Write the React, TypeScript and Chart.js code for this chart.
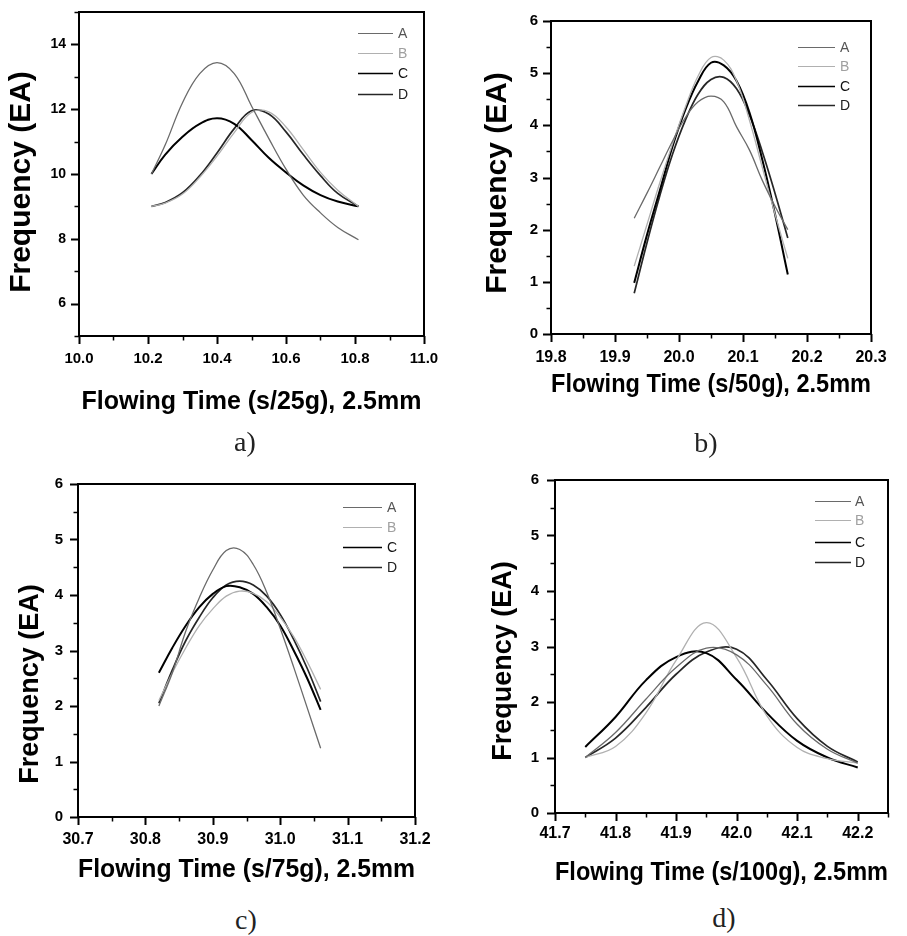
import React, { useEffect, useRef } from 'react';
import { Chart, registerables } from 'chart.js';

Chart.register(...registerables);

const FONT = '"Liberation Sans", Arial, Helvetica, sans-serif';

// ---------- Panel a) ----------
const A_X = [10.21, 10.25, 10.3, 10.35, 10.4, 10.45, 10.5, 10.55, 10.6, 10.65, 10.7, 10.75, 10.81];
const A_SERIES_A = [10.0, 10.9, 12.2, 13.1, 13.44, 13.1, 12.1, 11.1, 10.15, 9.35, 8.8, 8.35, 7.97];
const A_SERIES_B = [9.0, 9.1, 9.38, 9.9, 10.55, 11.28, 11.9, 11.92, 11.45, 10.75, 10.05, 9.5, 9.0];
const A_SERIES_C = [10.0, 10.6, 11.15, 11.55, 11.72, 11.55, 11.05, 10.5, 10.05, 9.65, 9.35, 9.15, 9.0];
const A_SERIES_D = [9.0, 9.12, 9.42, 9.95, 10.65, 11.4, 11.95, 11.85, 11.3, 10.6, 9.95, 9.4, 9.0];
const A_XTICKS = [10.0, 10.2, 10.4, 10.6, 10.8, 11.0];
const A_YTICKS = [6, 8, 10, 12, 14];

// ---------- Panel b) ----------
const B_X = [19.93, 19.95, 19.97, 19.99, 20.01, 20.03, 20.05, 20.07, 20.09, 20.11, 20.13, 20.15, 20.17];
const B_SERIES_A = [2.22, 2.7, 3.2, 3.7, 4.15, 4.45, 4.56, 4.45, 3.97, 3.53, 2.95, 2.45, 2.0];
const B_SERIES_B = [1.3, 2.1, 2.9, 3.65, 4.35, 4.95, 5.3, 5.25, 4.85, 4.1, 3.2, 2.3, 1.45];
const B_SERIES_C = [0.98, 1.9, 2.75, 3.6, 4.3, 4.85, 5.2, 5.15, 4.85, 4.25, 3.35, 2.3, 1.14];
const B_SERIES_D = [0.78, 1.75, 2.65, 3.45, 4.1, 4.6, 4.88, 4.92, 4.7, 4.2, 3.5, 2.7, 1.84];
const B_XTICKS = [19.8, 19.9, 20.0, 20.1, 20.2, 20.3];
const B_YTICKS = [0, 1, 2, 3, 4, 5, 6];

// ---------- Panel c) ----------
const C_X = [30.82, 30.84, 30.86, 30.88, 30.9, 30.92, 30.94, 30.96, 30.98, 31.0, 31.02, 31.04, 31.06];
const C_SERIES_A = [2.0, 2.6, 3.35, 3.95, 4.45, 4.8, 4.82, 4.55, 4.05, 3.4, 2.7, 1.97, 1.24];
const C_SERIES_B = [2.1, 2.6, 3.05, 3.45, 3.75, 3.98, 4.07, 4.03, 3.88, 3.6, 3.25, 2.8, 2.3];
const C_SERIES_C = [2.6, 3.05, 3.45, 3.78, 4.02, 4.16, 4.14, 4.02, 3.78, 3.45, 3.0, 2.5, 1.93];
const C_SERIES_D = [2.05, 2.65, 3.18, 3.6, 3.95, 4.18, 4.25, 4.18, 3.98, 3.65, 3.2, 2.68, 2.08];
const C_XTICKS = [30.7, 30.8, 30.9, 31.0, 31.1, 31.2];
const C_YTICKS = [0, 1, 2, 3, 4, 5, 6];

// ---------- Panel d) ----------
const D_X = [41.75, 41.8, 41.85, 41.9, 41.95, 42.0, 42.05, 42.1, 42.15, 42.2];
const D_SERIES_A = [1.0, 1.45, 2.05, 2.62, 2.97, 2.85, 2.3, 1.6, 1.15, 0.9];
const D_SERIES_B = [1.0, 1.2, 1.8, 2.75, 3.43, 2.8, 1.75, 1.18, 0.98, 0.9];
const D_SERIES_C = [1.19, 1.73, 2.39, 2.81, 2.88, 2.4, 1.8, 1.3, 1.0, 0.82];
const D_SERIES_D = [1.0, 1.35, 1.9, 2.5, 2.9, 2.95, 2.4, 1.7, 1.2, 0.92];
const D_XTICKS = [41.7, 41.8, 41.9, 42.0, 42.1, 42.2];
const D_YTICKS = [0, 1, 2, 3, 4, 5, 6];

const SERIES_LABELS = ['A', 'B', 'C', 'D'];

const SERIES_STYLE = [
  { color: '#6a6a6a', width: 1.3, text: '#555555' },
  { color: '#b0b0b0', width: 1.3, text: '#a0a0a0' },
  { color: '#000000', width: 2.0, text: '#111111' },
  { color: '#262626', width: 1.7, text: '#222222' },
];

const midpoints = (ticks: number[], extraEnd?: number) => {
  const out: number[] = [];
  for (let i = 0; i < ticks.length - 1; i++) out.push((ticks[i] + ticks[i + 1]) / 2);
  if (extraEnd !== undefined) out.push(extraEnd);
  return out;
};

type PanelCfg = {
  key: string;
  left: number; top: number; w: number; h: number;
  xs: number[]; series: number[][];
  xMin: number; xMax: number; yMin: number; yMax: number;
  xTicks: number[]; yTicks: number[]; xMinor: number[]; yMinor: number[];
  xDec: number; yDec: number;
  xTitle: string; xTitleSize: number; xTitlePad: number;
  yTitle: string; yTitleSize: number; yTitleX: number; yTitleY: number;
  pad: { left: number; right: number; top: number; bottom: number };
  yWidth: number; xHeight: number;
  xTickPad: number; yTickPad: number; xTickSize: number; yTickSize: number;
  legend: { x1: number; x2: number; tx: number; ys: number[] };
};

const MAJOR_LEN = 8;
const MINOR_LEN = 4.5;

const PANELS: PanelCfg[] = [
  {
    key: 'a', left: 0, top: 0, w: 453, h: 420,
    xs: A_X, series: [A_SERIES_A, A_SERIES_B, A_SERIES_C, A_SERIES_D],
    xMin: 10.0, xMax: 11.0, yMin: 5, yMax: 15,
    xTicks: A_XTICKS, yTicks: A_YTICKS,
    xMinor: midpoints(A_XTICKS), yMinor: [5, 7, 9, 11, 13, 15],
    xDec: 1, yDec: 0,
    xTitle: 'Flowing Time (s/25g), 2.5mm', xTitleSize: 25, xTitlePad: 5,
    yTitle: 'Frequency (EA)', yTitleSize: 30, yTitleX: 22, yTitleY: 182,
    pad: { left: 0, right: 29, top: 12, bottom: 0 },
    yWidth: 79, xHeight: 84,
    xTickPad: 6, yTickPad: 5, xTickSize: 15, yTickSize: 14,
    legend: { x1: 358, x2: 393, tx: 398, ys: [33, 53, 73, 94] },
  },
  {
    key: 'b', left: 453, top: 0, w: 454, h: 420,
    xs: B_X, series: [B_SERIES_A, B_SERIES_B, B_SERIES_C, B_SERIES_D],
    xMin: 19.8, xMax: 20.3, yMin: 0, yMax: 6,
    xTicks: B_XTICKS, yTicks: B_YTICKS,
    xMinor: midpoints(B_XTICKS), yMinor: midpoints(B_YTICKS),
    xDec: 1, yDec: 0,
    xTitle: 'Flowing Time (s/50g), 2.5mm', xTitleSize: 25, xTitlePad: 22,
    yTitle: 'Frequency (EA)', yTitleSize: 30, yTitleX: 45, yTitleY: 183,
    pad: { left: 0, right: 36, top: 21, bottom: 0 },
    yWidth: 98, xHeight: 86,
    xTickPad: 6, yTickPad: 5, xTickSize: 16, yTickSize: 15,
    legend: { x1: 345, x2: 382, tx: 387, ys: [47, 66, 86, 105] },
  },
  {
    key: 'c', left: 0, top: 420, w: 453, h: 470,
    xs: C_X, series: [C_SERIES_A, C_SERIES_B, C_SERIES_C, C_SERIES_D],
    xMin: 30.7, xMax: 31.2, yMin: 0, yMax: 6,
    xTicks: C_XTICKS, yTicks: C_YTICKS,
    xMinor: midpoints(C_XTICKS), yMinor: midpoints(C_YTICKS),
    xDec: 1, yDec: 0,
    xTitle: 'Flowing Time (s/75g), 2.5mm', xTitleSize: 26, xTitlePad: 7,
    yTitle: 'Frequency (EA)', yTitleSize: 27, yTitleX: 31, yTitleY: 264,
    pad: { left: 0, right: 38, top: 64, bottom: 0 },
    yWidth: 78, xHeight: 73,
    xTickPad: 5, yTickPad: 7, xTickSize: 16, yTickSize: 15,
    legend: { x1: 343, x2: 382, tx: 387, ys: [87, 107, 127, 147] },
  },
  {
    key: 'd', left: 453, top: 420, w: 454, h: 470,
    xs: D_X, series: [D_SERIES_A, D_SERIES_B, D_SERIES_C, D_SERIES_D],
    xMin: 41.7, xMax: 42.25, yMin: 0, yMax: 6,
    xTicks: D_XTICKS, yTicks: D_YTICKS,
    xMinor: midpoints(D_XTICKS, 42.25), yMinor: midpoints(D_YTICKS),
    xDec: 1, yDec: 0,
    xTitle: 'Flowing Time (s/100g), 2.5mm', xTitleSize: 26, xTitlePad: 4,
    yTitle: 'Frequency (EA)', yTitleSize: 27, yTitleX: 51, yTitleY: 241,
    pad: { left: 0, right: 19, top: 60, bottom: 0 },
    yWidth: 102, xHeight: 77,
    xTickPad: 3, yTickPad: 8, xTickSize: 16, yTickSize: 15,
    legend: { x1: 362, x2: 398, tx: 402, ys: [81, 100, 122, 142] },
  },
];

const CAPTIONS = [
  { text: 'a)', x: 245, y: 442 },
  { text: 'b)', x: 706, y: 443 },
  { text: 'c)', x: 246, y: 920 },
  { text: 'd)', x: 724, y: 918 },
];

const zeroPadding = (s: any) => {
  s.paddingTop = 0;
  s.paddingBottom = 0;
  s.paddingLeft = 0;
  s.paddingRight = 0;
};

const originPlugin = {
  id: 'originDecor',
  afterDatasetsDraw(chart: any, _args: any, opts: any) {
    const { ctx, chartArea } = chart;
    const xs = chart.scales.x;
    const ys = chart.scales.y;
    ctx.save();
    ctx.strokeStyle = '#000';
    const tick = (list: number[], len: number, width: number) => {
      ctx.lineWidth = width;
      ctx.beginPath();
      (list || []).forEach((v: number) => {
        const px = Math.round(xs.getPixelForValue(v)) + 0.5;
        ctx.moveTo(px, chartArea.bottom);
        ctx.lineTo(px, chartArea.bottom + len);
      });
      ctx.stroke();
    };
    const ytick = (list: number[], len: number, width: number) => {
      ctx.lineWidth = width;
      ctx.beginPath();
      (list || []).forEach((v: number) => {
        const py = Math.round(ys.getPixelForValue(v)) + 0.5;
        ctx.moveTo(chartArea.left, py);
        ctx.lineTo(chartArea.left - len, py);
      });
      ctx.stroke();
    };
    tick(opts.xMajor, MAJOR_LEN, 2);
    tick(opts.xMinor, MINOR_LEN, 1.5);
    ytick(opts.yMajor, MAJOR_LEN, 2);
    ytick(opts.yMinor, MINOR_LEN, 1.5);
    // frame
    ctx.lineWidth = 2;
    ctx.strokeRect(chartArea.left, chartArea.top, chartArea.right - chartArea.left, chartArea.bottom - chartArea.top);
    // legend
    const lg = opts.legend;
    if (lg) {
      chart.data.datasets.forEach((ds: any, i: number) => {
        const y = lg.ys[i];
        ctx.strokeStyle = ds.borderColor;
        ctx.lineWidth = Math.max(1.2, ds.borderWidth - 0.3);
        ctx.beginPath();
        ctx.moveTo(lg.x1, y + 0.5);
        ctx.lineTo(lg.x2, y + 0.5);
        ctx.stroke();
        ctx.fillStyle = SERIES_STYLE[i].text;
        ctx.font = `normal 14px ${FONT}`;
        ctx.textAlign = 'left';
        ctx.textBaseline = 'middle';
        ctx.fillText(ds.label, lg.tx, y + 1);
      });
    }
    // y title
    const yt = opts.yTitle;
    if (yt) {
      ctx.translate(yt.x, yt.y);
      ctx.rotate(-Math.PI / 2);
      ctx.fillStyle = '#000';
      ctx.font = `bold ${yt.size}px ${FONT}`;
      ctx.textAlign = 'center';
      ctx.textBaseline = 'middle';
      ctx.fillText(yt.text, 0, 0);
    }
    ctx.restore();
  },
};

function PanelChart({ p }: { p: PanelCfg }) {
  const ref = useRef<HTMLCanvasElement | null>(null);
  useEffect(() => {
    if (!ref.current) return;
    const datasets = p.series.map((s, i) => ({
      label: SERIES_LABELS[i],
      data: p.xs.map((x, j) => ({ x, y: s[j] })),
      borderColor: SERIES_STYLE[i].color,
      borderWidth: SERIES_STYLE[i].width,
      pointRadius: 0,
      fill: false,
      tension: 0.4,
    }));
    const chart = new Chart(ref.current, {
      type: 'line',
      data: { datasets },
      plugins: [originPlugin],
      options: {
        responsive: false,
        animation: false,
        devicePixelRatio: 1,
        layout: { padding: p.pad },
        plugins: {
          legend: { display: false },
          tooltip: { enabled: false },
          originDecor: {
            xMajor: p.xTicks,
            yMajor: p.yTicks,
            xMinor: p.xMinor,
            yMinor: p.yMinor,
            legend: p.legend,
            yTitle: { text: p.yTitle, size: p.yTitleSize, x: p.yTitleX, y: p.yTitleY },
          },
        } as any,
        scales: {
          x: {
            type: 'linear',
            min: p.xMin,
            max: p.xMax,
            afterBuildTicks: (s: any) => { s.ticks = p.xTicks.map((v) => ({ value: v })); },
            afterFit: (s: any) => { s.height = p.xHeight; zeroPadding(s); },
            ticks: {
              callback: (v: any) => Number(v).toFixed(p.xDec),
              font: { family: FONT, size: p.xTickSize, weight: 'bold' },
              color: '#000',
              padding: p.xTickPad + MAJOR_LEN,
              maxRotation: 0,
              autoSkip: false,
            },
            grid: { display: false, drawTicks: false },
            border: { display: false },
            title: {
              display: true,
              text: p.xTitle,
              color: '#000',
              font: { family: FONT, size: p.xTitleSize, weight: 'bold', lineHeight: 1 },
              padding: { top: 0, bottom: p.xTitlePad },
            },
          },
          y: {
            type: 'linear',
            min: p.yMin,
            max: p.yMax,
            afterBuildTicks: (s: any) => { s.ticks = p.yTicks.map((v) => ({ value: v })); },
            afterFit: (s: any) => { s.width = p.yWidth; zeroPadding(s); },
            ticks: {
              callback: (v: any) => Number(v).toFixed(p.yDec),
              font: { family: FONT, size: p.yTickSize, weight: 'bold' },
              color: '#000',
              padding: p.yTickPad + MAJOR_LEN,
              autoSkip: false,
            },
            grid: { display: false, drawTicks: false },
            border: { display: false },
            title: { display: false },
          },
        },
      } as any,
    });
    return () => chart.destroy();
  }, [p]);
  return (
    <div style={{ position: 'absolute', left: p.left, top: p.top, width: p.w, height: p.h }}>
      <canvas ref={ref} width={p.w} height={p.h} style={{ width: p.w, height: p.h, display: 'block' }} />
    </div>
  );
}

export default function App() {
  return (
    <div style={{ position: 'absolute', left: 0, top: 0, width: 907, height: 936, background: '#fff', overflow: 'hidden' }}>
      {PANELS.map((p) => (
        <PanelChart key={p.key} p={p} />
      ))}
      {CAPTIONS.map((c) => (
        <div
          key={c.text}
          style={{
            position: 'absolute',
            left: c.x,
            top: c.y,
            transform: 'translate(-50%, -50%)',
            fontFamily: '"Liberation Serif", "DejaVu Serif", serif',
            fontSize: 28,
            lineHeight: 1,
            color: '#222',
            whiteSpace: 'nowrap',
          }}
        >
          {c.text}
        </div>
      ))}
    </div>
  );
}
